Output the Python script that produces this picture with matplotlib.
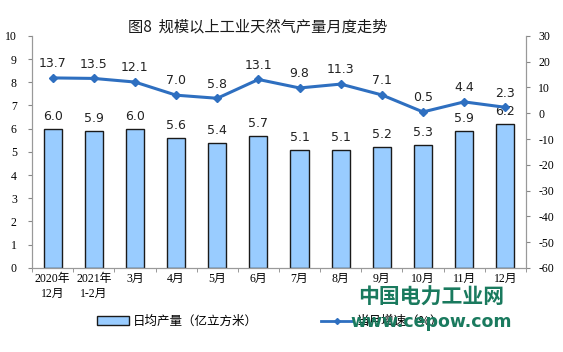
import matplotlib
matplotlib.use("Agg")
import matplotlib.pyplot as plt
import numpy as np
from matplotlib.lines import Line2D
from matplotlib.patches import Patch

categories = ["2020年\n12月", "2021年\n1-2月", "3月", "4月", "5月", "6月", "7月", "8月", "9月", "10月", "11月", "12月"]
daily_output = [6.0, 5.9, 6.0, 5.6, 5.4, 5.7, 5.1, 5.1, 5.2, 5.3, 5.9, 6.2]
yoy_growth = [13.7, 13.5, 12.1, 7.0, 5.8, 13.1, 9.8, 11.3, 7.1, 0.5, 4.4, 2.3]

cjk = ["Noto Sans CJK SC", "DejaVu Sans"]
serif = ["Liberation Serif", "Noto Sans CJK SC"]

fig = plt.figure(figsize=(5.63, 3.52), dpi=100)
ax = fig.add_axes([0.057, 0.239, 0.877, 0.659])
x = np.arange(len(categories))
ax.bar(x, daily_output, width=0.44, color="#99ccff", edgecolor="#1a1a1a", linewidth=1.0, zorder=2)
ax.set_ylim(0, 10)
ax.set_xlim(-0.5, len(categories) - 0.5)
ax.set_yticks(range(0, 11))
ax.set_yticklabels([str(v) for v in range(0, 11)], family=serif, fontsize=8.5)
ax.set_xticks(x)
ax.set_xticklabels(categories, family=serif, fontsize=8.5, linespacing=1.3)
ax.set_xticks(np.arange(-0.5, len(categories), 1), minor=True)
ax.tick_params(axis="x", which="major", length=0, pad=4)
ax.tick_params(axis="x", which="minor", length=3, color="#888888")
ax.tick_params(axis="y", length=3, color="#888888", pad=8)
ax.spines["top"].set_visible(False)
for s in ["left", "bottom", "right"]:
    ax.spines[s].set_color("#999999")

for xi, v in zip(x, daily_output):
    ax.text(xi, v + 0.25, f"{v:.1f}", ha="center", va="bottom", fontsize=9, family="DejaVu Sans", color="#222222")

ax2 = ax.twinx()
ax2.plot(x, yoy_growth, color="#2e6fc0", linewidth=2.2, marker="D", markersize=4, zorder=3)
ax2.set_ylim(-60, 30)
ax2.set_yticks(range(-60, 31, 10))
ax2.set_yticklabels([str(v) for v in range(-60, 31, 10)], family=serif, fontsize=8.5)
ax2.tick_params(axis="y", length=3, color="#888888", pad=6)
ax2.spines["top"].set_visible(False)
for s in ["left", "bottom", "right"]:
    ax2.spines[s].set_color("#999999")
for xi, v in zip(x, yoy_growth):
    ax2.text(xi, v + 3.0, f"{v:.1f}", ha="center", va="bottom", fontsize=9, family="DejaVu Sans", color="#222222")

fig.text(0.457, 0.923, "图8  规模以上工业天然气产量月度走势", ha="center", va="center",
         family=cjk, fontsize=11, color="#1a1a1a")

handles = [Patch(facecolor="#99ccff", edgecolor="#1a1a1a", linewidth=1.0),
           Line2D([0], [0], color="#2e6fc0", linewidth=2, marker="D", markersize=3)]
leg = fig.legend(handles, ["日均产量（亿立方米）", "当月增速（%）"], loc="center", bbox_to_anchor=(0.48, 0.087),
                 ncol=2, frameon=False, prop={"family": cjk, "size": 9}, columnspacing=5,
                 handlelength=2.6, handleheight=0.7, handletextpad=0.3)

fig.text(0.765, 0.156, "中国电力工业网", ha="center", va="center", family=cjk, fontsize=15,
         fontweight="bold", color="#1a7a5e", zorder=10)
fig.text(0.765, 0.085, "www.cepow.com", ha="center", va="center", family="DejaVu Sans", fontsize=12.5,
         fontweight="bold", color="#1a7a5e", zorder=10)

fig.savefig("out.png", dpi=100)
